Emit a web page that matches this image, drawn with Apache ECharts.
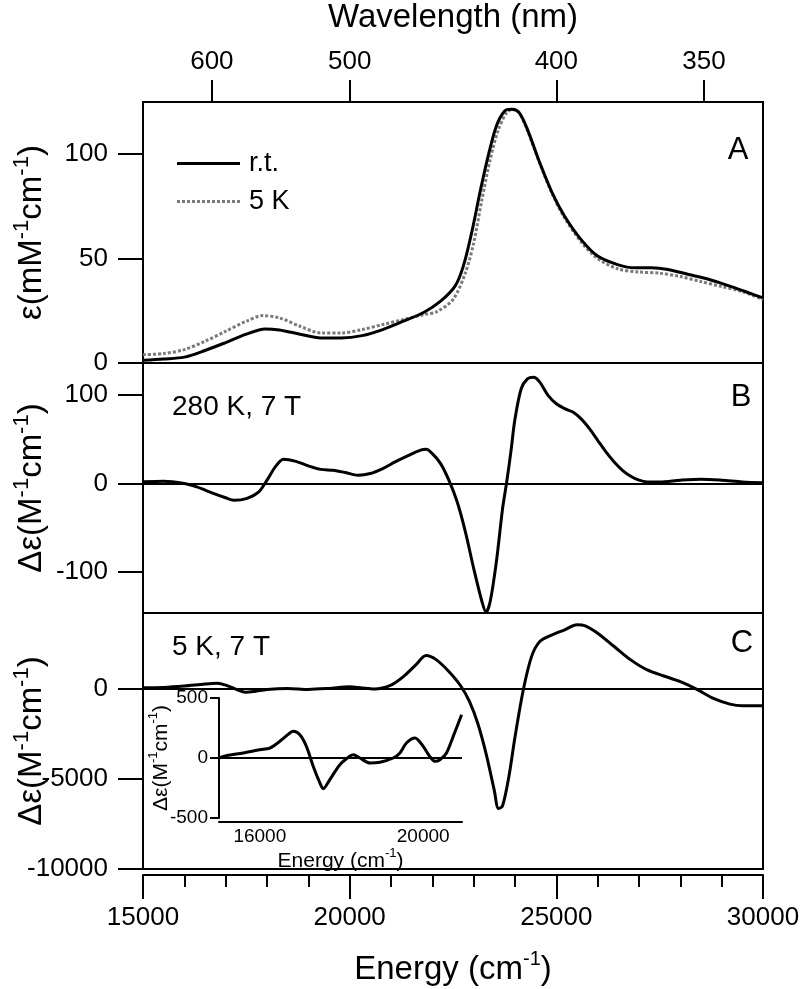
<!DOCTYPE html>
<html><head><meta charset="utf-8">
<script src="https://cdn.jsdelivr.net/npm/echarts@6/dist/echarts.min.js"></script>
<style>html,body{margin:0;padding:0;background:#fff}#c{width:800px;height:989px}</style>
</head><body><div id="c"></div>
<script>
// ---- Panel A: absorption (mM^-1 cm^-1) ----
const energyRT = [15000,15500,16000,16500,17000,17500,17950,18300,18800,19300,19800,20300,20800,21300,21800,22200,22550,22750,22950,23150,23350,23550,23750,23920,24100,24300,24600,24900,25200,25600,26000,26500,26900,27300,27700,28200,28700,29200,29600,30000];
const epsRT    = [1.3,1.9,2.8,6.0,9.8,13.8,16.3,15.8,13.8,12.0,12.0,13.1,16.0,20.0,24.3,29.6,36.8,46.4,62.3,81.5,99.1,113.5,120.7,121.5,119.9,111.9,95.9,81.5,70.3,59.1,51.2,47.0,45.6,45.6,44.8,42.4,40.0,36.8,34.0,31.2];
const energy5K = [15000,15500,16000,16500,17000,17500,17900,18300,18800,19300,19800,20300,20800,21300,21800,22100,22500,22800,23000,23200,23400,23600,23800,23950,24100,24300,24600,24900,25200,25600,26000,26500,27000,27500,28000,28500,29000,29500,30000];
const eps5K    = [4,4.5,6.4,10.4,15.2,20,22.7,21.6,17.6,14.4,14.4,16,18.4,20.8,23.2,24.5,30.4,43.2,57.5,78.3,97.5,111.9,119.9,121.5,119.9,111.5,95.5,81,69.5,58,50,45,43.6,43,41.4,39,36.6,34.2,30.4];
// ---- Panel B: MCD 280 K, 7 T ----
const energyB = [15000,15500,16000,16300,16700,17000,17200,17500,17800,18000,18200,18400,18700,19000,19300,19600,19900,20200,20500,20800,21100,21400,21700,21850,22000,22200,22400,22600,22800,23000,23200,23300,23400,23550,23700,23800,23900,24000,24150,24300,24450,24600,24800,25000,25200,25400,25600,25800,26000,26200,26400,26600,26800,27000,27200,27500,28000,28500,29000,29500,30000];
const deltaB  = [2,2.6,0,-3.8,-11,-16,-18.8,-17,-9.4,3.8,18.8,27.4,25,20,16,15,12.4,9.4,11.3,16.9,24.4,31.2,37.5,38.7,33.8,22.5,3.8,-20.6,-54.4,-95.7,-133,-145,-133,-88,-28,2,35.7,73,107,118,120,114.5,99.5,90,84.5,80.7,73,62,48.8,35.7,24.4,15,8.3,3.8,1.9,1.9,3.8,4.9,3.8,1.9,1];
// ---- Panel C: MCD 5 K, 7 T ----
const energyC = [15000,15500,16000,16500,16800,17000,17300,17500,17700,18000,18500,19000,19500,20000,20300,20600,21000,21300,21600,21850,22100,22400,22700,22900,23100,23300,23500,23600,23700,23850,24000,24200,24400,24600,24900,25200,25500,25700,26000,26400,26800,27200,27600,28000,28400,28800,29200,29500,30000];
const deltaC  = [56,74,150,260,300,200,-74,-200,-150,-37,19,-37,19,110,37,-19,200,670,1320,1840,1600,950,110,-720,-1930,-3600,-5650,-6650,-6490,-4900,-2680,-74,1780,2620,2990,3270,3550,3490,3080,2340,1600,1040,706,390,-37,-540,-855,-950,-950];
// ---- Inset: 5 K low-energy region ----
const energyInset = [15000,15180,15590,16000,16245,16490,16735,16816,16980,17140,17306,17470,17550,17714,17960,18200,18290,18450,18700,18940,19265,19430,19590,19800,20000,20160,20290,20410,20570,20735,20940];
const deltaInset  = [0,19,42,69,83,139,208,222,194,97,-69,-208,-256,-180,-56,14,28,0,-42,-36,0,42,125,167,97,14,-28,-14,42,180,361];
// ---- Tick labels ----
const wavelengthTicks = [600,500,400,350];
const yTicksA = [0,50,100];
const yTicksB = [-100,0,100];
const yTicksC = [-10000,-5000,0];
const insetXTicks = [16000,20000];

const FONT = '"Liberation Sans", Arial, Helvetica, sans-serif';
const pairs = (xs, ys) => xs.map((x, i) => [x, ys[i]]);
const BLK = '#000';
const plain = v => String(Math.round(v));
const line2 = {show: true, onZero: false, lineStyle: {color: BLK, width: 2}};
function richStyle(size, supSize) {
  return {
    fontFamily: FONT, fontSize: size, color: BLK,
    rich: {
      n: {fontFamily: FONT, fontSize: size, color: BLK, lineHeight: size + 4, verticalAlign: 'bottom'},
      s: {fontFamily: FONT, fontSize: supSize, color: BLK, lineHeight: size + 4, verticalAlign: 'top'}
    }
  };
}
const gridBase = {left: 143, width: 620, show: true, borderColor: BLK, borderWidth: 2, backgroundColor: 'transparent', outerBoundsMode: 'none', containLabel: false};
const zeroLine = {symbol: 'none', silent: true, label: {show: false}, lineStyle: {color: BLK, width: 2, type: 'solid'}, data: [{yAxis: 0}], animation: false};

function yAxisFor(grid, min, max, ticks, name) {
  return {
    gridIndex: grid, type: 'value', min: min, max: max,
    axisLine: line2,
    axisTick: {show: true, inside: false, length: 25, customValues: ticks, lineStyle: {color: BLK, width: 2}},
    axisLabel: {customValues: ticks, formatter: plain, margin: 35, fontFamily: FONT, fontSize: 26, color: BLK},
    splitLine: {show: false},
    name: name, nameLocation: 'middle', nameGap: 95, nameRotate: 90, nameMoveOverlap: false,
    nameTextStyle: richStyle(33, 22)
  };
}

// legend icons: a solid bar and a dotted bar (same box 63 x 3)
const solidIcon = 'path://M0,0H63V3H0Z';
let dots = '';
for (let i = 0; i < 13; i++) { dots += 'M' + (i * 5) + ',0h3v3h-3Z'; }
const dottedIcon = 'path://' + dots;

const option = {
  animation: false,
  backgroundColor: '#fff',
  grid: [
    Object.assign({top: 102, height: 261}, gridBase),
    Object.assign({top: 363, height: 250}, gridBase),
    Object.assign({top: 613, height: 256}, gridBase),
    {left: 219, top: 698, width: 243, height: 120, show: false, outerBoundsMode: 'none', containLabel: false}
  ],
  xAxis: [
    {
      gridIndex: 0, type: 'value', position: 'top', min: 15000, max: 30000,
      axisLine: line2,
      axisTick: {show: true, inside: false, length: 22, customValues: wavelengthTicks.map(w => 1e7 / w), lineStyle: {color: BLK, width: 2}},
      axisLabel: {customValues: wavelengthTicks.map(w => 1e7 / w), formatter: v => String(Math.round(1e7 / v)), margin: 27, fontFamily: FONT, fontSize: 26, color: BLK},
      splitLine: {show: false},
      name: 'Wavelength (nm)', nameLocation: 'middle', nameGap: 68, nameMoveOverlap: false,
      nameTextStyle: {fontFamily: FONT, fontSize: 33, color: BLK}
    },
    {gridIndex: 1, type: 'value', min: 15000, max: 30000, show: false},
    {
      gridIndex: 2, type: 'value', position: 'bottom', min: 15000, max: 30000, interval: 5000, offset: 6,
      axisLine: line2,
      axisTick: {show: true, inside: false, length: 24, lineStyle: {color: BLK, width: 2}},
      minorTick: {show: true, splitNumber: 5, length: 12, lineStyle: {color: BLK, width: 2}},
      axisLabel: {formatter: plain, margin: 30, fontFamily: FONT, fontSize: 26, color: BLK},
      splitLine: {show: false}, minorSplitLine: {show: false},
      name: '{n|Energy (cm}{s|-1}{n|)}', nameLocation: 'middle', nameGap: 74, nameMoveOverlap: false,
      nameTextStyle: richStyle(33, 20)
    },
    {
      gridIndex: 3, type: 'value', min: 15000, max: 20950, offset: 4,
      axisLine: line2,
      axisTick: {show: false},
      axisLabel: {customValues: insetXTicks, formatter: plain, margin: 5, fontFamily: FONT, fontSize: 19, color: BLK},
      splitLine: {show: false},
      name: '{n|Energy (cm}{s|-1}{n|)}', nameLocation: 'middle', nameGap: 25, nameMoveOverlap: false,
      nameTextStyle: richStyle(21, 13)
    }
  ],
  yAxis: [
    yAxisFor(0, 0, 125, yTicksA, '{n|ε(mM}{s|-1}{n|cm}{s|-1}{n|)}'),
    yAxisFor(1, -146, 136, yTicksB, '{n|Δε(M}{s|-1}{n|cm}{s|-1}{n|)}'),
    yAxisFor(2, -10000, 4200, yTicksC, '{n|Δε(M}{s|-1}{n|cm}{s|-1}{n|)}'),
    {
      gridIndex: 3, type: 'value', min: -500, max: 500, interval: 500,
      axisLine: line2,
      axisTick: {show: true, inside: false, length: 9, lineStyle: {color: BLK, width: 2}},
      axisLabel: {formatter: plain, margin: 11, fontFamily: FONT, fontSize: 19, color: BLK},
      splitLine: {show: false},
      name: '{n|Δε(M}{s|-1}{n|cm}{s|-1}{n|)}', nameLocation: 'middle', nameGap: 47, nameRotate: 90, nameMoveOverlap: false,
      nameTextStyle: richStyle(21, 13)
    }
  ],
  legend: {
    orient: 'vertical', left: 172, top: 145, itemWidth: 63, itemHeight: 3, itemGap: 11,
    data: [{name: 'r.t.', icon: solidIcon}, {name: '5 K', icon: dottedIcon}],
    textStyle: {fontFamily: FONT, fontSize: 27, color: BLK, padding: [0, 0, 0, 4]},
    selectedMode: false
  },
  series: [
    {name: 'r.t.', type: 'line', xAxisIndex: 0, yAxisIndex: 0, data: pairs(energyRT, epsRT), symbol: 'none', smooth: 0.3, z: 3,
     lineStyle: {color: BLK, width: 3}, itemStyle: {color: BLK}},
    {name: '5 K', type: 'line', xAxisIndex: 0, yAxisIndex: 0, data: pairs(energy5K, eps5K), symbol: 'none', smooth: 0.3, z: 2,
     lineStyle: {color: '#7a7a7a', width: 3, type: [3, 2]}, itemStyle: {color: '#7a7a7a'}},
    {name: 'B', type: 'line', xAxisIndex: 1, yAxisIndex: 1, data: pairs(energyB, deltaB), symbol: 'none', smooth: 0.3,
     lineStyle: {color: BLK, width: 3}, markLine: zeroLine},
    {name: 'C', type: 'line', xAxisIndex: 2, yAxisIndex: 2, data: pairs(energyC, deltaC), symbol: 'none', smooth: 0.3,
     lineStyle: {color: BLK, width: 3}, markLine: zeroLine},
    {name: 'inset', type: 'line', xAxisIndex: 3, yAxisIndex: 3, data: pairs(energyInset, deltaInset), symbol: 'none', smooth: 0.3,
     lineStyle: {color: BLK, width: 3}, markLine: zeroLine}
  ],
  graphic: [
    {type: 'text', x: 738, y: 150, style: {text: 'A', font: '31px ' + FONT, fill: BLK, align: 'center', verticalAlign: 'middle'}},
    {type: 'text', x: 741, y: 397, style: {text: 'B', font: '31px ' + FONT, fill: BLK, align: 'center', verticalAlign: 'middle'}},
    {type: 'text', x: 742, y: 643, style: {text: 'C', font: '31px ' + FONT, fill: BLK, align: 'center', verticalAlign: 'middle'}},
    {type: 'text', x: 172, y: 407, style: {text: '280 K, 7 T', font: '28px ' + FONT, fill: BLK, align: 'left', verticalAlign: 'middle'}},
    {type: 'text', x: 172, y: 647, style: {text: '5 K, 7 T', font: '28px ' + FONT, fill: BLK, align: 'left', verticalAlign: 'middle'}}
  ]
};
const chart = echarts.init(document.getElementById('c'), null, {renderer: 'canvas'});
chart.setOption(option);
</script>
</body></html>
